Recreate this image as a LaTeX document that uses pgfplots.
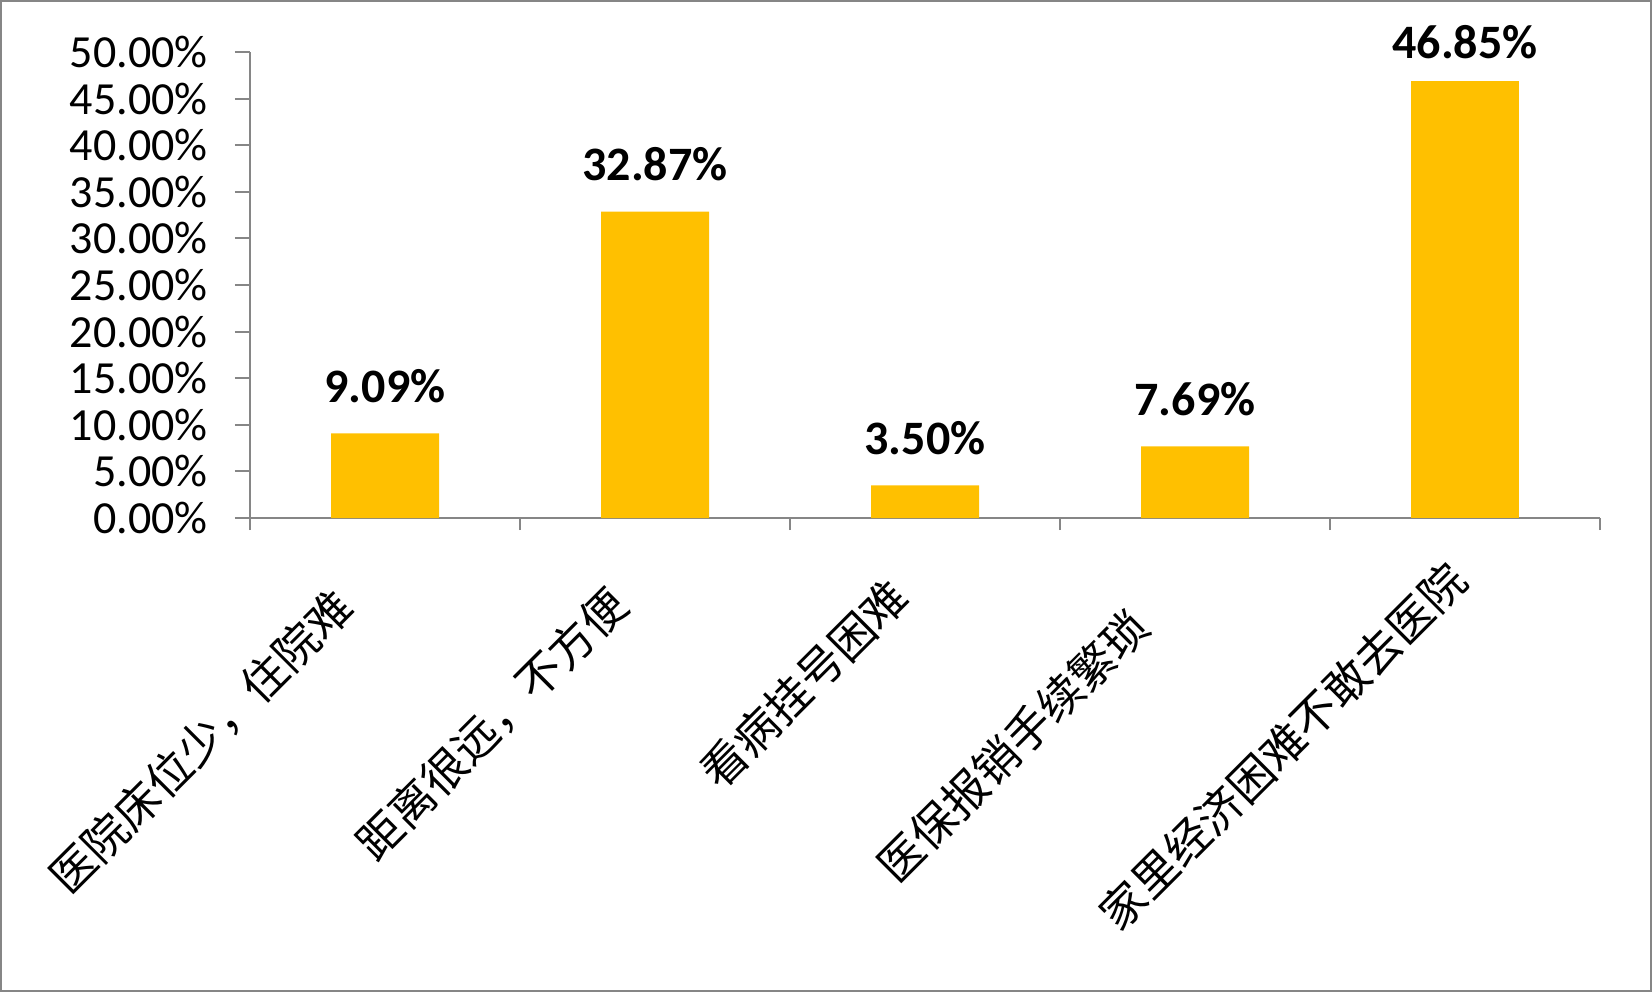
\documentclass[border=0pt]{standalone}
\usepackage{pgfplots}
\pgfplotsset{compat=1.18}
\usepackage{fontspec}
\setmainfont{Carlito}
\newfontfamily\cjk{Noto Sans CJK SC}
\definecolor{bargold}{HTML}{FFC000}
\definecolor{axisgray}{HTML}{868686}
\begin{document}
\begin{tikzpicture}
\useasboundingbox (0,0) rectangle (826pt,496pt);
\draw[draw=axisgray, line width=1pt] (0.5pt,0.5pt) rectangle (825.5pt,495.5pt);
\begin{axis}[
  at={(125pt,237pt)}, anchor=south west,
  scale only axis, width=675pt, height=233pt,
  xmin=-0.5, xmax=4.5, ymin=0, ymax=50,
  axis x line=bottom, axis y line=left,
  axis line style={-, draw=axisgray, line width=1pt},
  ybar, bar width=54pt, bar shift=0pt,
  xtick={0,1,2,3,4},
  xticklabels={},
  minor xtick={-0.5,0.5,1.5,2.5,3.5,4.5},
  ytick={0,5,10,15,20,25,30,35,40,45,50},
  yticklabels={0.00\%,5.00\%,10.00\%,15.00\%,20.00\%,25.00\%,30.00\%,35.00\%,40.00\%,45.00\%,50.00\%},
  tick align=outside,
  major tick length=7.5pt, minor tick length=6pt,
  xtick style={draw=none},
  minor x tick style={draw=axisgray, line width=1pt},
  ytick style={draw=axisgray, line width=1pt},
  yticklabel style={anchor=east, inner sep=0pt, xshift=-13.5pt, font=\fontsize{23}{23}\selectfont},
  nodes near coords={\pgfmathprintnumber[fixed,fixed zerofill,precision=2,assume math mode=true]{\pgfplotspointmeta}\%},
  nodes near coords align={anchor=base},
  every node near coord/.append style={inner sep=0pt, font=\bfseries\fontsize{24}{24}\selectfont, black},
  clip=false,
]
\addplot[fill=bargold, draw=none, every node near coord/.append style={yshift=15.5pt}] coordinates {(0,9.09) (1,32.87) (2,3.50) (3,7.69)};
\addplot[fill=bargold, draw=none, every node near coord/.append style={yshift=11.5pt}] coordinates {(4,46.85)};
\tikzset{catlab/.style={rotate=45, anchor=north east, inner sep=0pt, font=\cjk\fontsize{22.5}{22.5}\selectfont}}
\node[catlab] at ([xshift=-28pt,yshift=-32.5pt]axis cs:0,0) {医院床位少，住院难};
\node[catlab] at ([xshift=-25.5pt,yshift=-31.5pt]axis cs:1,0) {距离很远，不方便};
\node[catlab] at ([xshift=-20pt,yshift=-27.5pt]axis cs:2,0) {看病挂号困难};
\node[catlab] at ([xshift=-35pt,yshift=-42.5pt]axis cs:3,0) {医保报销手续繁琐};
\node[catlab] at ([xshift=-11pt,yshift=-19pt]axis cs:4,0) {家里经济困难不敢去医院};
\end{axis}
\end{tikzpicture}
\end{document}
